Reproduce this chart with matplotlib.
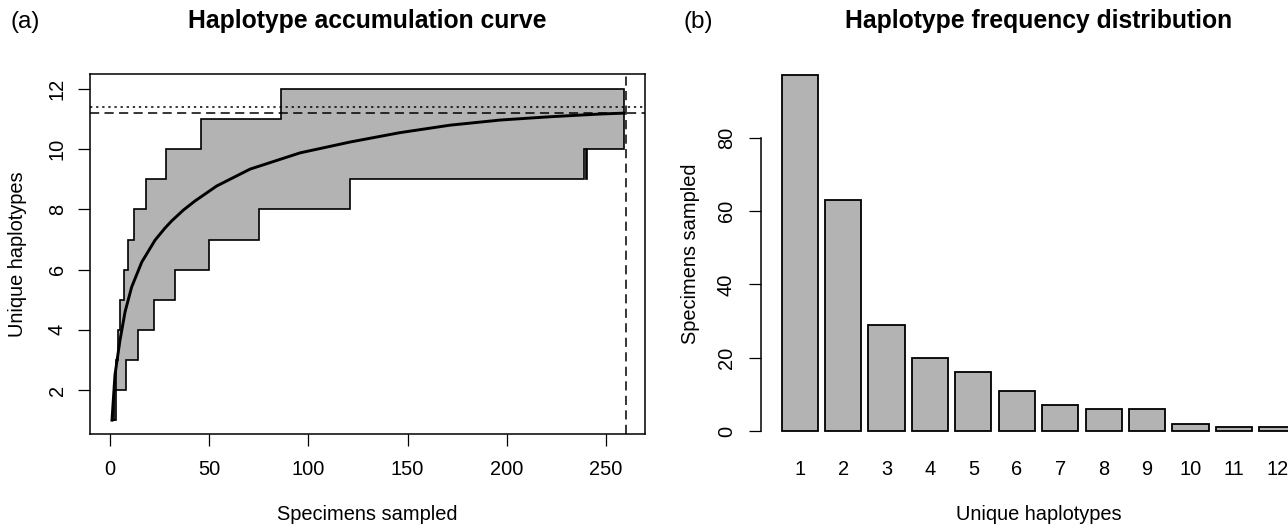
import numpy as np
import matplotlib
matplotlib.use("Agg")
import matplotlib.pyplot as plt
from matplotlib.patches import Polygon

plt.rcParams['font.family'] = ['Liberation Sans', 'DejaVu Sans']

# ---------------- Panel (a): haplotype accumulation curve ----------------
n_sampled = 259
upper_x = [1, 2, 3, 4, 5, 7, 9, 12, 18, 28, 46, 86]
upper_y = [1, 2, 3, 4, 5, 6, 7, 8, 9, 10, 11, 12]
lower_x = [1, 3, 8, 14, 22, 33, 50, 75, 121, 239, 239.8, 240.5]
lower_y = [1, 2, 3, 4, 5, 6, 7, 8, 9, 10, 9, 10]
mean_x = [1, 2.5, 5, 7.6, 10.9, 16, 22.7, 27.7, 31.1, 37, 42.8, 53.8, 70.6,
          95.8, 121, 146, 171.4, 196.6, 221.8, 247, 259]
mean_y = [1, 2.5, 3.64, 4.6, 5.42, 6.25, 6.98, 7.38, 7.62, 7.98, 8.28, 8.78,
          9.34, 9.88, 10.24, 10.55, 10.8, 10.97, 11.08, 11.17, 11.2]
mean_max = 11.2
estimated_total = 11.42
vline_n = 260
a_xticks = [0, 50, 100, 150, 200, 250]
a_yticks = [2, 4, 6, 8, 10, 12]

# ---------------- Panel (b): haplotype frequency distribution ----------------
haplotypes = ['1', '2', '3', '4', '5', '6', '7', '8', '9', '10', '11', '12']
frequencies = [97, 63, 29, 20, 16, 11, 7, 6, 6, 2, 1, 1]
b_yticks = [0, 20, 40, 60, 80]

W, H = 1288, 532
fig = plt.figure(figsize=(W / 100, H / 100), dpi=100)


def px_axes(left, top, right, bottom):
    return fig.add_axes([left / W, 1 - bottom / H, (right - left) / W, (bottom - top) / H])


def step_vertices(xs, ys, xend):
    vx, vy = [], []
    for i, (x, y) in enumerate(zip(xs, ys)):
        nx = xs[i + 1] if i + 1 < len(xs) else xend
        vx += [x, nx]
        vy += [y, y]
    return vx, vy


GRAY = '#B3B3B3'
AXFS = 14.4
TITLEFS = 17.8
TAGFS = 17.5

# ---- left axes
ax1 = px_axes(90, 74, 645, 434)
ux, uy = step_vertices(upper_x, upper_y, n_sampled)
lx, ly = step_vertices(lower_x, lower_y, n_sampled)
verts = list(zip(ux, uy)) + list(zip(lx[::-1], ly[::-1]))
ax1.add_patch(Polygon(verts, closed=True, facecolor=GRAY, edgecolor='black',
                      linewidth=1.2, zorder=2))
ax1.plot(mean_x, mean_y, color='black', linewidth=2.1, zorder=3)
ax1.axhline(mean_max, color='black', linewidth=1.1, dashes=(6, 3.5), zorder=4)
ax1.axhline(estimated_total, color='black', linewidth=1.1, dashes=(1.5, 2.5), zorder=4)
ax1.axvline(vline_n, color='black', linewidth=1.1, dashes=(6, 3.5), zorder=4)
ax1.set_xlim(-10.08, 269.65)
ax1.set_ylim(0.54, 12.5)
ax1.set_xticks(a_xticks)
ax1.set_xticklabels([str(t) for t in a_xticks])
ax1.set_yticks(a_yticks)
ax1.set_yticklabels([str(t) for t in a_yticks], rotation=90, va='center')
ax1.tick_params(axis='both', direction='out', length=8.6, width=0.9, labelsize=AXFS)
ax1.tick_params(axis='x', pad=10)
ax1.tick_params(axis='y', pad=8)
for s in ax1.spines.values():
    s.set_linewidth(1.1)

fig.text(367.5 / W, 1 - 515 / H, 'Specimens sampled', ha='center', va='center', fontsize=AXFS)
fig.text(18 / W, 1 - 254 / H, 'Unique haplotypes', ha='center', va='center',
         rotation=90, fontsize=AXFS)
fig.text(367.5 / W, 1 - 21 / H, 'Haplotype accumulation curve', ha='center', va='center',
         fontsize=TITLEFS, fontweight='bold')
fig.text(11 / W, 1 - 22 / H, '(a)', ha='left', va='center', fontsize=TAGFS)

# ---- right axes
ax2 = px_axes(761, 74, 1316, 434)
centers = [1.2 * (i + 1) - 0.5 for i in range(len(frequencies))]
ax2.bar(centers, frequencies, width=1.0, color=GRAY, edgecolor='black',
        linewidth=1.3, clip_on=False, zorder=2)
ax2.set_xlim(-0.368, 14.968)
ax2.set_ylim(-0.82, 97.4)
ax2.set_xticks(centers)
ax2.set_xticklabels(haplotypes)
ax2.set_yticks(b_yticks)
ax2.set_yticklabels([str(t) for t in b_yticks], rotation=90, va='center')
ax2.tick_params(axis='x', length=0, pad=18.5, labelsize=AXFS)
ax2.tick_params(axis='y', direction='out', length=8.6, width=0.9, pad=9.4, labelsize=AXFS)
for k in ['top', 'right', 'bottom']:
    ax2.spines[k].set_visible(False)
ax2.spines['left'].set_bounds(0, 80)
ax2.spines['left'].set_linewidth(1.1)
ax2.patch.set_alpha(0)

fig.text(1038.5 / W, 1 - 515 / H, 'Unique haplotypes', ha='center', va='center', fontsize=AXFS)
fig.text(690 / W, 1 - 254 / H, 'Specimens sampled', ha='center', va='center',
         rotation=90, fontsize=AXFS)
fig.text(1038.5 / W, 1 - 21 / H, 'Haplotype frequency distribution', ha='center', va='center',
         fontsize=TITLEFS, fontweight='bold')
fig.text(684 / W, 1 - 22 / H, '(b)', ha='left', va='center', fontsize=TAGFS)

fig.savefig('out.png', dpi=100)
